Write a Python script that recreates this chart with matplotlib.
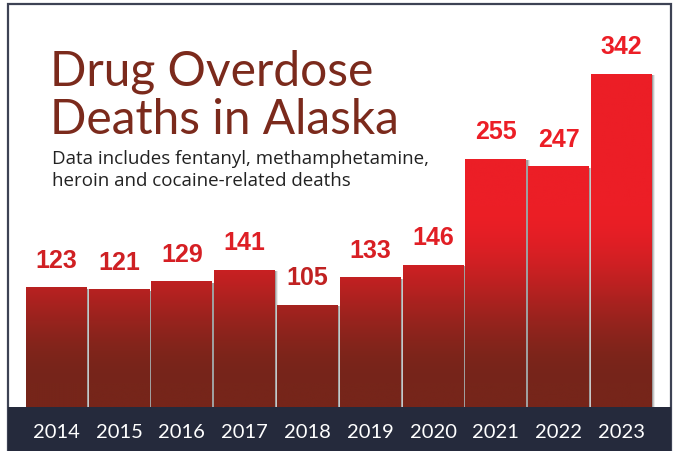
import numpy as np
import matplotlib.pyplot as plt
from matplotlib.patches import Rectangle
from matplotlib.colors import to_rgb

years = ["2014", "2015", "2016", "2017", "2018", "2019", "2020", "2021", "2022", "2023"]
deaths = [123, 121, 129, 141, 105, 133, 146, 255, 247, 342]

W, H = 680, 451
fig = plt.figure(figsize=(6.8, 4.51), dpi=100)
fig.patch.set_facecolor("white")

# white card with dark frame and dark band at the bottom
fig.patches.append(Rectangle((8 / W, 0), 663 / W, 447 / H, transform=fig.transFigure,
                             facecolor="white", edgecolor="#3d4254", lw=1.6, zorder=0))
fig.patches.append(Rectangle((8 / W, 0), 663 / W, 44 / H, transform=fig.transFigure,
                             facecolor="#252a3c", edgecolor="none", zorder=1))

ax = fig.add_axes([8 / W, 44 / H, 663 / W, 403 / H])
ax.set_zorder(3)
ax.set_xlim(-0.77, 9.79)
ax.set_ylim(0, 413.7)
ax.axis("off")
ax.patch.set_alpha(0)

dark = np.array(to_rgb("#76251a"))
bright = np.array(to_rgb("#ec1e26"))


def grad_color(v):
    t = np.clip((np.asarray(v, dtype=float) - 25) / (205 - 25), 0, 1)
    t = t * t * (3 - 2 * t)
    return dark + (bright - dark) * t[..., None]


bw = 0.97
for i, v in enumerate(deaths):
    # soft shadow on the right
    for k, a in enumerate([0.35, 0.22, 0.12]):
        ax.add_patch(Rectangle((i - bw / 2 + 0.02 + 0.016 * k, 0), bw, v - 1.5,
                               facecolor="#555555", edgecolor="none", alpha=a, zorder=1))
    bar = Rectangle((i - bw / 2, 0), bw, v, facecolor="none", edgecolor="none", zorder=2)
    ax.add_patch(bar)
    ys = np.linspace(0, v, 300)
    img = grad_color(ys)[:, None, :]
    im = ax.imshow(img, extent=(i - bw / 2, i + bw / 2, 0, v), origin="lower",
                   aspect="auto", zorder=3, interpolation="bilinear")
    im.set_clip_path(bar)
    ax.text(i, v + 20, str(v), ha="center", va="baseline", fontsize=18,
            fontweight="bold", family="Liberation Sans", color=grad_color(v + 25), zorder=4)

ax.set_xlim(-0.77, 9.79)
ax.set_ylim(0, 413.7)

for i, y in enumerate(years):
    xf = (8 + (i + 0.77) / (9.79 + 0.77) * 663) / W
    fig.text(xf, 1 - 438 / H, y, ha="center", va="baseline", fontsize=14.5,
             color="white", family=["Lato", "DejaVu Sans"], zorder=5)

title_kw = dict(fontsize=34.5, color="#7b2a1c", family=["Lato", "DejaVu Sans"],
                va="baseline", ha="left")
fig.text(50 / W, 1 - 85 / H, "Drug Overdose", **title_kw)
fig.text(50 / W, 1 - 134 / H, "Deaths in Alaska", **title_kw)

sub_kw = dict(fontsize=13.5, color="#222222", family=["Open Sans", "DejaVu Sans"],
              va="baseline", ha="left")
fig.text(52 / W, 1 - 164 / H, "Data includes fentanyl, methamphetamine,", **sub_kw)
fig.text(52 / W, 1 - 186 / H, "heroin and cocaine-related deaths", **sub_kw)

fig.savefig("out.png", dpi=100)
